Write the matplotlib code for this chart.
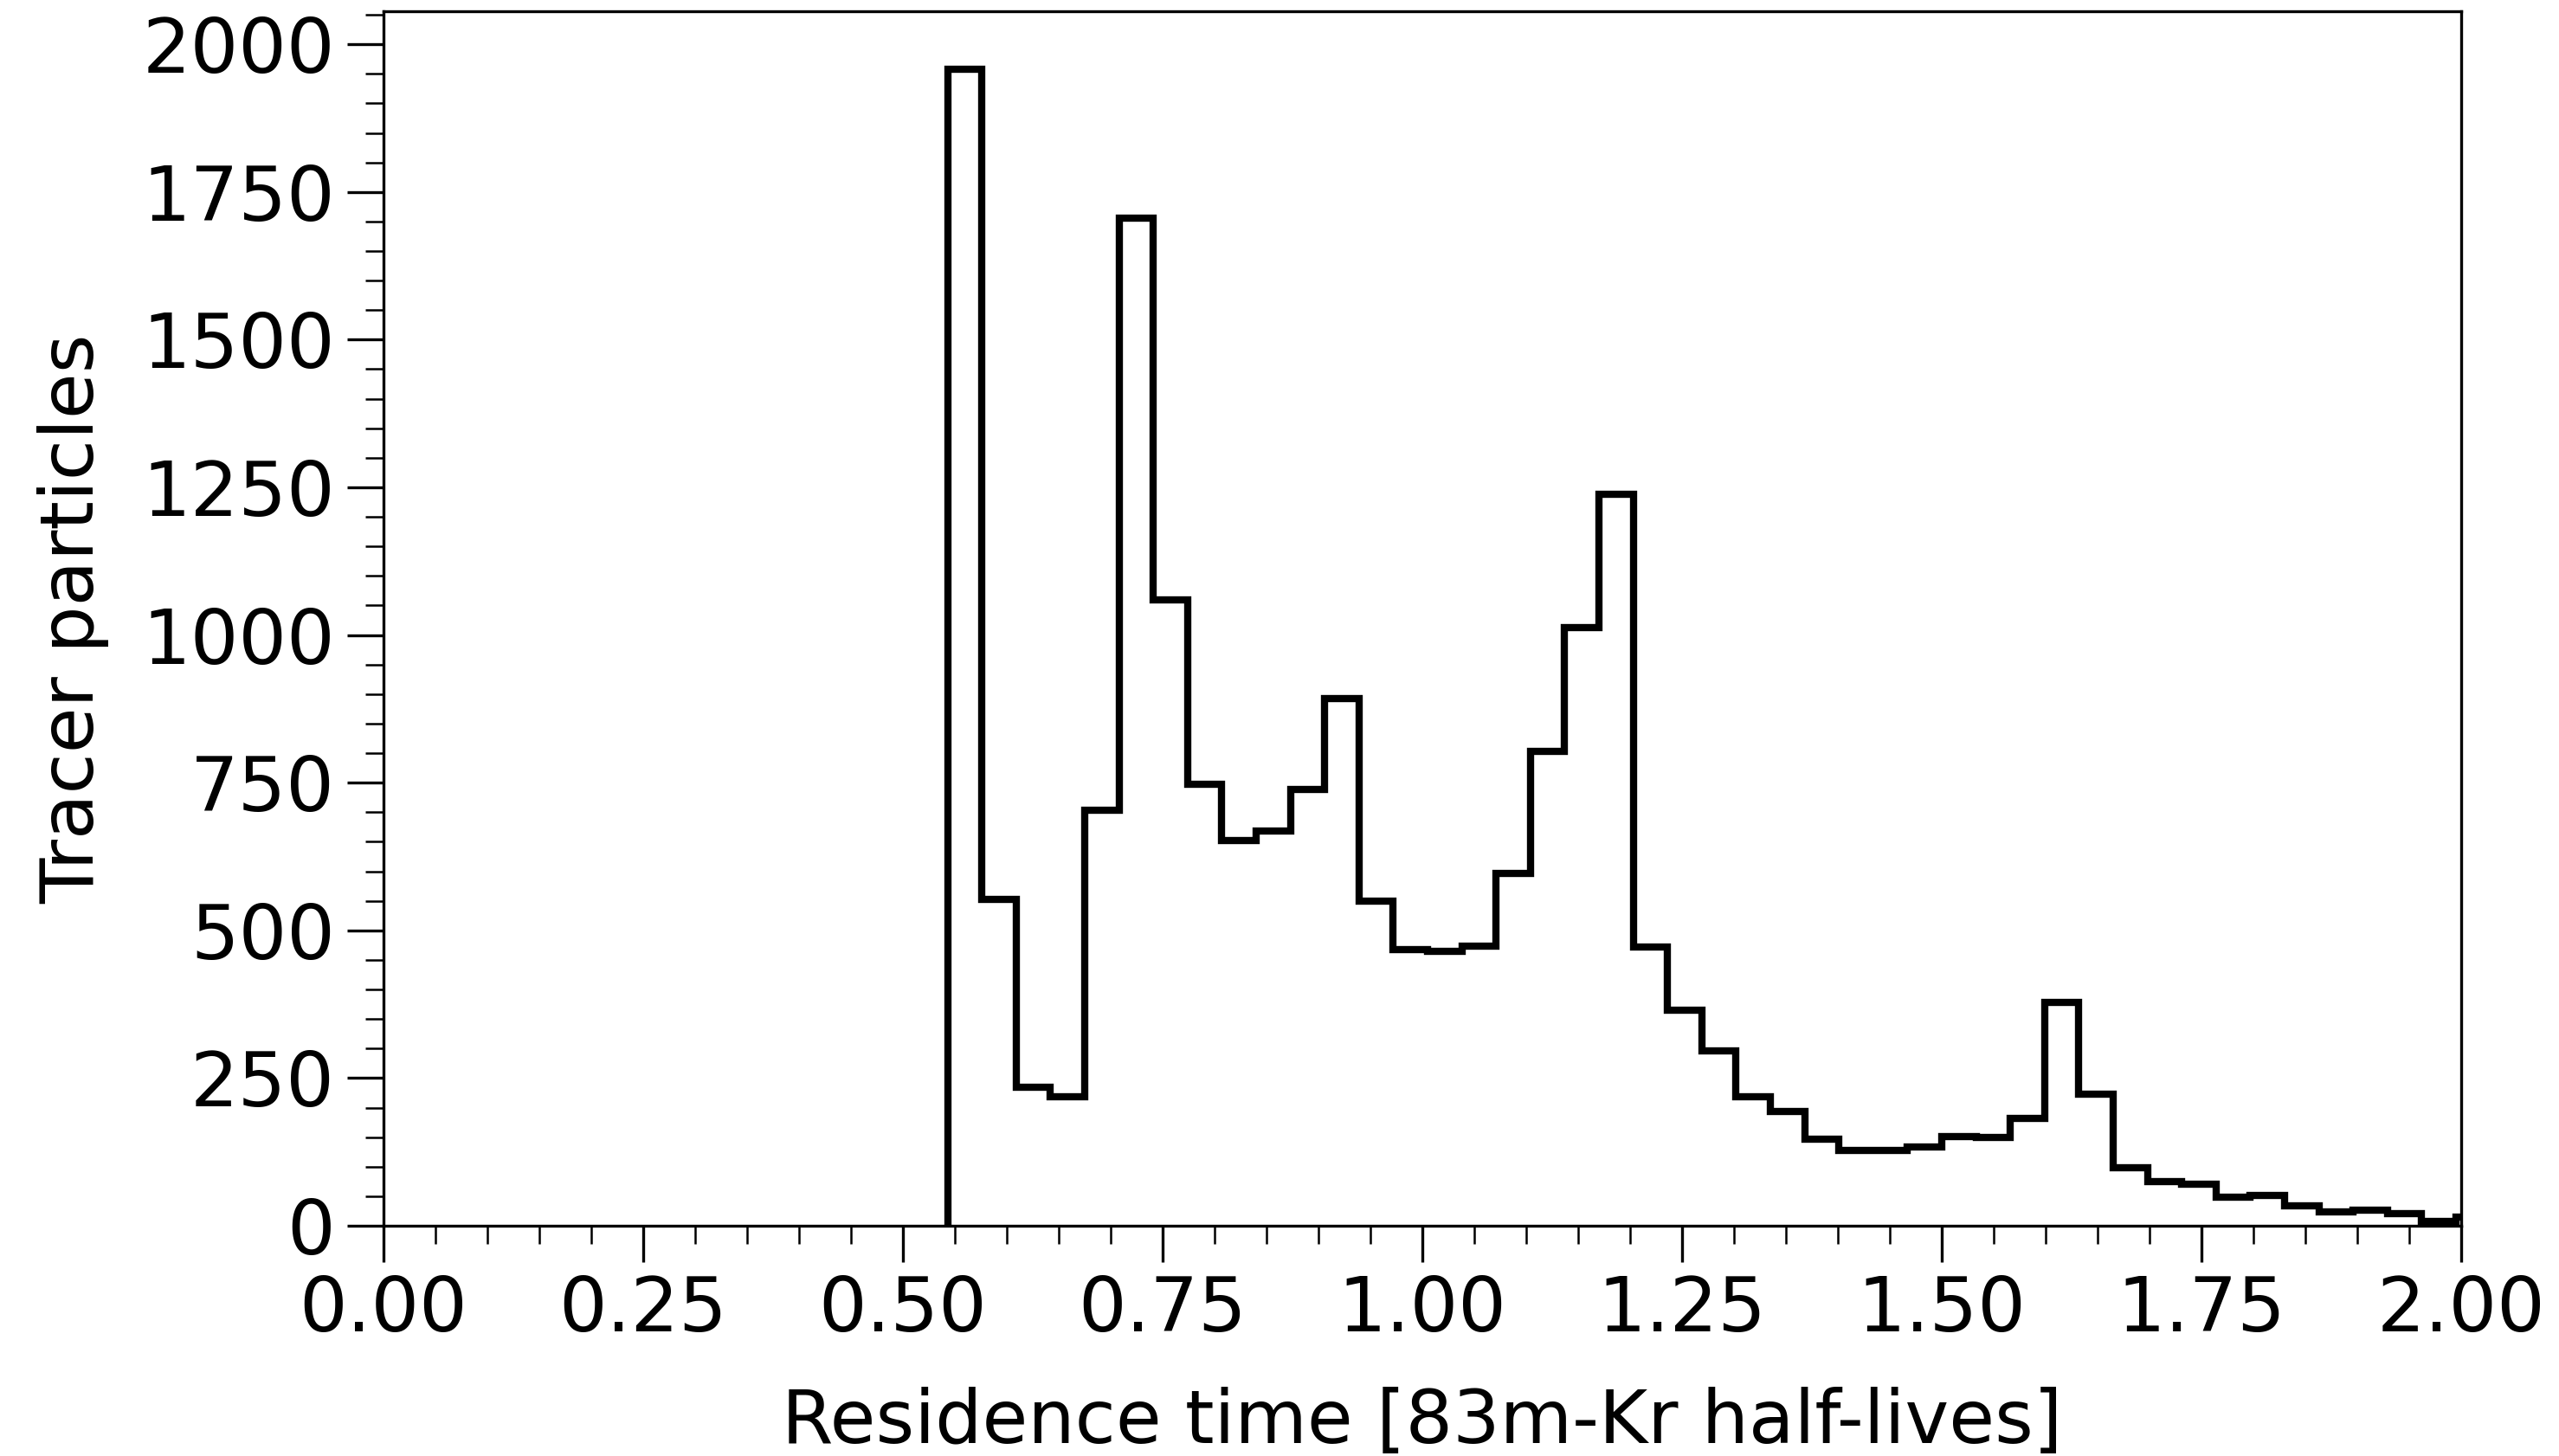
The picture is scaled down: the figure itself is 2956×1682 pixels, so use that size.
import numpy as np
import matplotlib
matplotlib.use("Agg")
import matplotlib.pyplot as plt
from matplotlib.ticker import MultipleLocator

# Histogram data (counts per bin)
bin_start = 0.543
bin_width = 0.033
counts = [1958, 552, 234, 219, 704, 1705, 1060, 748, 652, 668,
          738, 893, 550, 468, 464, 473, 596, 803, 1013, 1238,
          472, 365, 296, 219, 194, 146, 128, 127, 134, 151,
          150, 181, 378, 223, 98, 75, 71, 48, 52, 34,
          23, 27, 21, 7, 15]
edges = bin_start + bin_width * np.arange(len(counts) + 1)

xlabel = "Residence time [83m-Kr half-lives]"
ylabel = "Tracer particles"

W, H, DPI = 2956, 1682, 300
fig = plt.figure(figsize=(W / DPI, H / DPI), dpi=DPI)
ax = fig.add_axes([443 / W, 1 - 1416 / H, (2843 - 443) / W, (1416 - 13) / H])

ax.stairs(counts, edges, color="black", linewidth=2, baseline=0)

ax.set_xlim(0, 2)
ax.set_ylim(0, max(counts) * 1.05)

ax.xaxis.set_major_locator(MultipleLocator(0.25))
ax.xaxis.set_minor_locator(MultipleLocator(0.05))
ax.yaxis.set_major_locator(MultipleLocator(250))
ax.yaxis.set_minor_locator(MultipleLocator(50))
ax.xaxis.set_major_formatter(matplotlib.ticker.FormatStrFormatter("%.2f"))

ax.tick_params(which="major", direction="out", length=10, labelsize=21)
ax.tick_params(which="minor", direction="out", length=5)

ax.set_xlabel(xlabel, fontsize=20.6, labelpad=11)
ax.set_ylabel(ylabel, fontsize=20.6, labelpad=9)

fig.savefig("out.png", dpi=DPI)
